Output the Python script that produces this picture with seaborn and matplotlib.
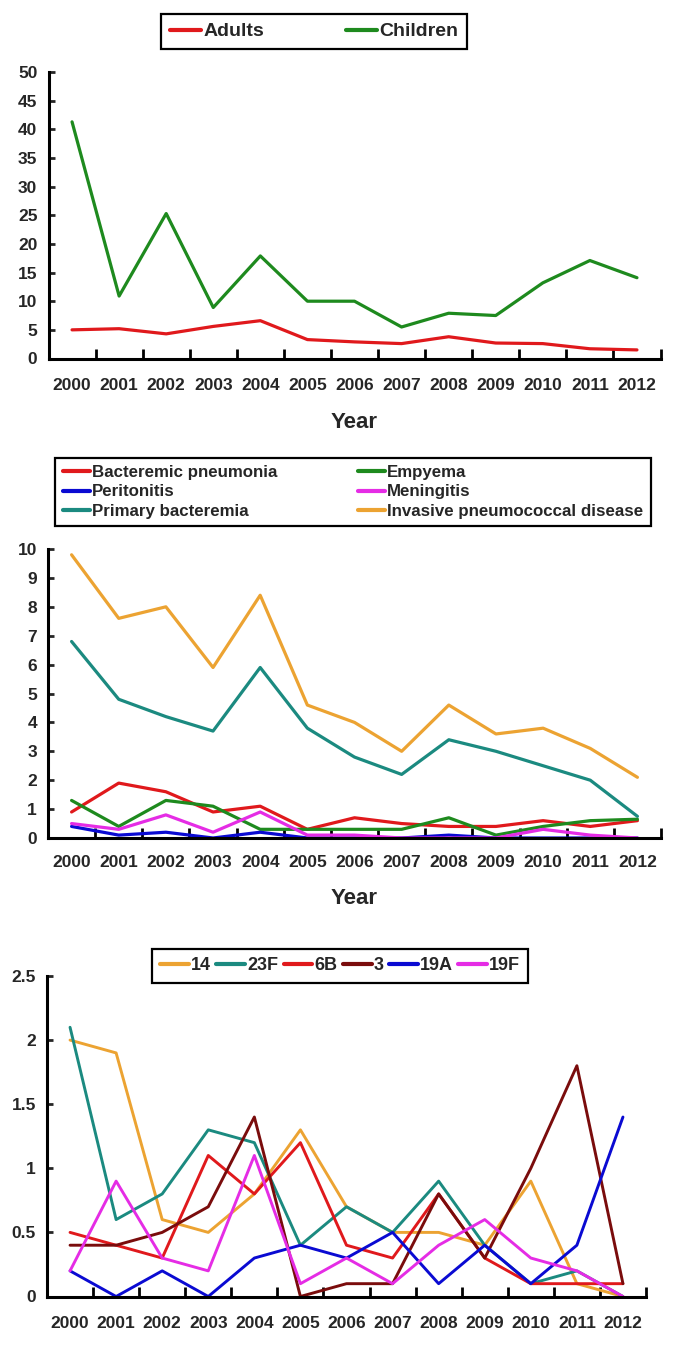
import numpy as np
import pandas as pd
import seaborn as sns
import matplotlib.pyplot as plt
from matplotlib.ticker import FuncFormatter


years = list(range(2000, 2013))

# Top panel: by age group
age_groups = ['Adults', 'Children']
adults = [5.0, 5.2, 4.3, 5.6, 6.6, 3.3, 2.9, 2.6, 3.8, 2.7, 2.6, 1.7, 1.5]
children = [41.3, 10.9, 25.3, 8.9, 17.9, 10.0, 10.0, 5.5, 7.9, 7.5, 13.2, 17.1, 14.1]

# Middle panel: by clinical presentation
presentations = ['Bacteremic pneumonia', 'Empyema', 'Peritonitis', 'Meningitis',
                 'Primary bacteremia', 'Invasive pneumococcal disease']
bact_pneumonia = [0.9, 1.9, 1.6, 0.9, 1.1, 0.3, 0.7, 0.5, 0.4, 0.4, 0.6, 0.4, 0.6]
empyema = [1.3, 0.4, 1.3, 1.1, 0.3, 0.3, 0.3, 0.3, 0.7, 0.1, 0.4, 0.6, 0.65]
peritonitis = [0.4, 0.1, 0.2, 0.0, 0.2, 0.0, 0.0, 0.0, 0.1, 0.0, 0.0, 0.0, 0.0]
meningitis = [0.5, 0.3, 0.8, 0.2, 0.9, 0.1, 0.1, 0.0, 0.0, 0.0, 0.3, 0.1, 0.0]
primary_bact = [6.8, 4.8, 4.2, 3.7, 5.9, 3.8, 2.8, 2.2, 3.4, 3.0, 2.5, 2.0, 0.75]
ipd = [9.8, 7.6, 8.0, 5.9, 8.4, 4.6, 4.0, 3.0, 4.6, 3.6, 3.8, 3.1, 2.1]

# Bottom panel: by serotype
serotypes = ['14', '23F', '6B', '3', '19A', '19F']
st_14 = [2.0, 1.9, 0.6, 0.5, 0.8, 1.3, 0.7, 0.5, 0.5, 0.4, 0.9, 0.1, 0.0]
st_23f = [2.1, 0.6, 0.8, 1.3, 1.2, 0.4, 0.7, 0.5, 0.9, 0.4, 0.1, 0.2, 0.0]
st_6b = [0.5, 0.4, 0.3, 1.1, 0.8, 1.2, 0.4, 0.3, 0.8, 0.3, 0.1, 0.1, 0.1]
st_3 = [0.4, 0.4, 0.5, 0.7, 1.4, 0.0, 0.1, 0.1, 0.8, 0.3, 1.0, 1.8, 0.1]
st_19a = [0.2, 0.0, 0.2, 0.0, 0.3, 0.4, 0.3, 0.5, 0.1, 0.4, 0.1, 0.4, 1.4]
st_19f = [0.2, 0.9, 0.3, 0.2, 1.1, 0.1, 0.3, 0.1, 0.4, 0.6, 0.3, 0.2, 0.0]

RED = '#e0191c'
GREEN = '#1e8a1e'
BLUE = '#0a0ad2'
MAGENTA = '#e52ce5'
TEAL = '#1b8a80'
ORANGE = '#eca332'
DARKRED = '#7a0c0c'


def long_df(names, series):
    return pd.DataFrame({
        'year': years * len(names),
        'value': [v for s in series for v in s],
        'group': [n for n in names for _ in years],
    })


sns.set_style('ticks')
plt.rcParams['font.family'] = ['Liberation Sans Narrow', 'Liberation Sans', 'DejaVu Sans']
plt.rcParams['font.weight'] = 'bold'
plt.rcParams['axes.linewidth'] = 2.2

W, H = 685, 1366
fig = plt.figure(figsize=(W / 100, H / 100), dpi=100)


def add_panel(left, right, top, bottom):
    return fig.add_axes([left / W, 1 - bottom / H, (right - left) / W, (bottom - top) / H])


def style_axis(ax, ymax, ystep, fmt):
    ax.set_xlim(1999.5, 2012.5)
    ax.set_ylim(0, ymax)
    ax.set_xticks(years)
    ax.set_xticks(np.arange(1999.5, 2013, 1), minor=True)
    ax.set_yticks(np.arange(0, ymax + ystep / 2, ystep))
    ax.yaxis.set_major_formatter(FuncFormatter(fmt))
    ax.tick_params(axis='x', which='major', length=0, pad=14, labelsize=12.5)
    ax.tick_params(axis='x', which='minor', direction='in', length=7, width=2, color='black')
    ax.tick_params(axis='y', direction='in', length=4, width=2, pad=8, labelsize=12.5)
    for lab in ax.get_xticklabels() + ax.get_yticklabels():
        lab.set_fontweight('bold')
    ax.set_xlabel('')
    ax.set_ylabel('')
    sns.despine(ax=ax)
    for s in ['left', 'bottom']:
        ax.spines[s].set_color('black')


def place_legend(ax, order, cx, cy, ncol, colsp, fs, lsp=0.1):
    handles, labels = ax.get_legend_handles_labels()
    lookup = dict(zip(labels, handles))
    leg = ax.legend([lookup[o] for o in order], order, loc='center',
                    bbox_to_anchor=(cx / W, 1 - cy / H), bbox_transform=fig.transFigure,
                    ncol=ncol, columnspacing=colsp, handlelength=1.6, handletextpad=0.1,
                    frameon=True, fancybox=False, framealpha=1, borderpad=0.45,
                    labelspacing=lsp, prop={'weight': 'bold', 'size': fs})
    leg.get_frame().set_edgecolor('black')
    leg.get_frame().set_linewidth(1.6)
    for h in leg.legend_handles:
        h.set_linewidth(3)


# Top panel
ax1 = add_panel(48.5, 660.5, 72, 358.5)
df1 = long_df(age_groups, [adults, children])
sns.lineplot(data=df1, x='year', y='value', hue='group', hue_order=age_groups,
             palette=[RED, GREEN], linewidth=2.3, ax=ax1)
style_axis(ax1, 50, 5, lambda v, p: f'{v:g}')
ax1.set_xlabel('Year', fontsize=16, fontweight='bold', labelpad=14)
place_legend(ax1, age_groups, 314, 31.5, 2, 4.2, 14)

# Middle panel
ax2 = add_panel(48, 661, 549, 838)
df2 = long_df(presentations, [bact_pneumonia, empyema, peritonitis, meningitis, primary_bact, ipd])
sns.lineplot(data=df2, x='year', y='value', hue='group', hue_order=presentations,
             palette=[RED, GREEN, BLUE, MAGENTA, TEAL, ORANGE], linewidth=2.3, ax=ax2)
style_axis(ax2, 10, 1, lambda v, p: f'{v:g}')
ax2.tick_params(axis='x', which='major', pad=12)
ax2.set_xlabel('Year', fontsize=16, fontweight='bold', labelpad=13)
place_legend(ax2, ['Bacteremic pneumonia', 'Peritonitis', 'Primary bacteremia',
                   'Empyema', 'Meningitis', 'Invasive pneumococcal disease'],
             353, 492, 2, 4.8, 12.2, lsp=0.25)

# Bottom panel
ax3 = add_panel(47, 646, 976, 1296.5)
df3 = long_df(serotypes, [st_14, st_23f, st_6b, st_3, st_19a, st_19f])
sns.lineplot(data=df3, x='year', y='value', hue='group', hue_order=serotypes,
             palette=[ORANGE, TEAL, RED, DARKRED, BLUE, MAGENTA], linewidth=2.1, ax=ax3)
style_axis(ax3, 2.5, 0.5, lambda v, p: f'{v:g}')
ax3.tick_params(axis='x', which='major', pad=14)
place_legend(ax3, serotypes, 340, 966, 6, 0.3, 13)

fig.savefig('out.png', dpi=100)
